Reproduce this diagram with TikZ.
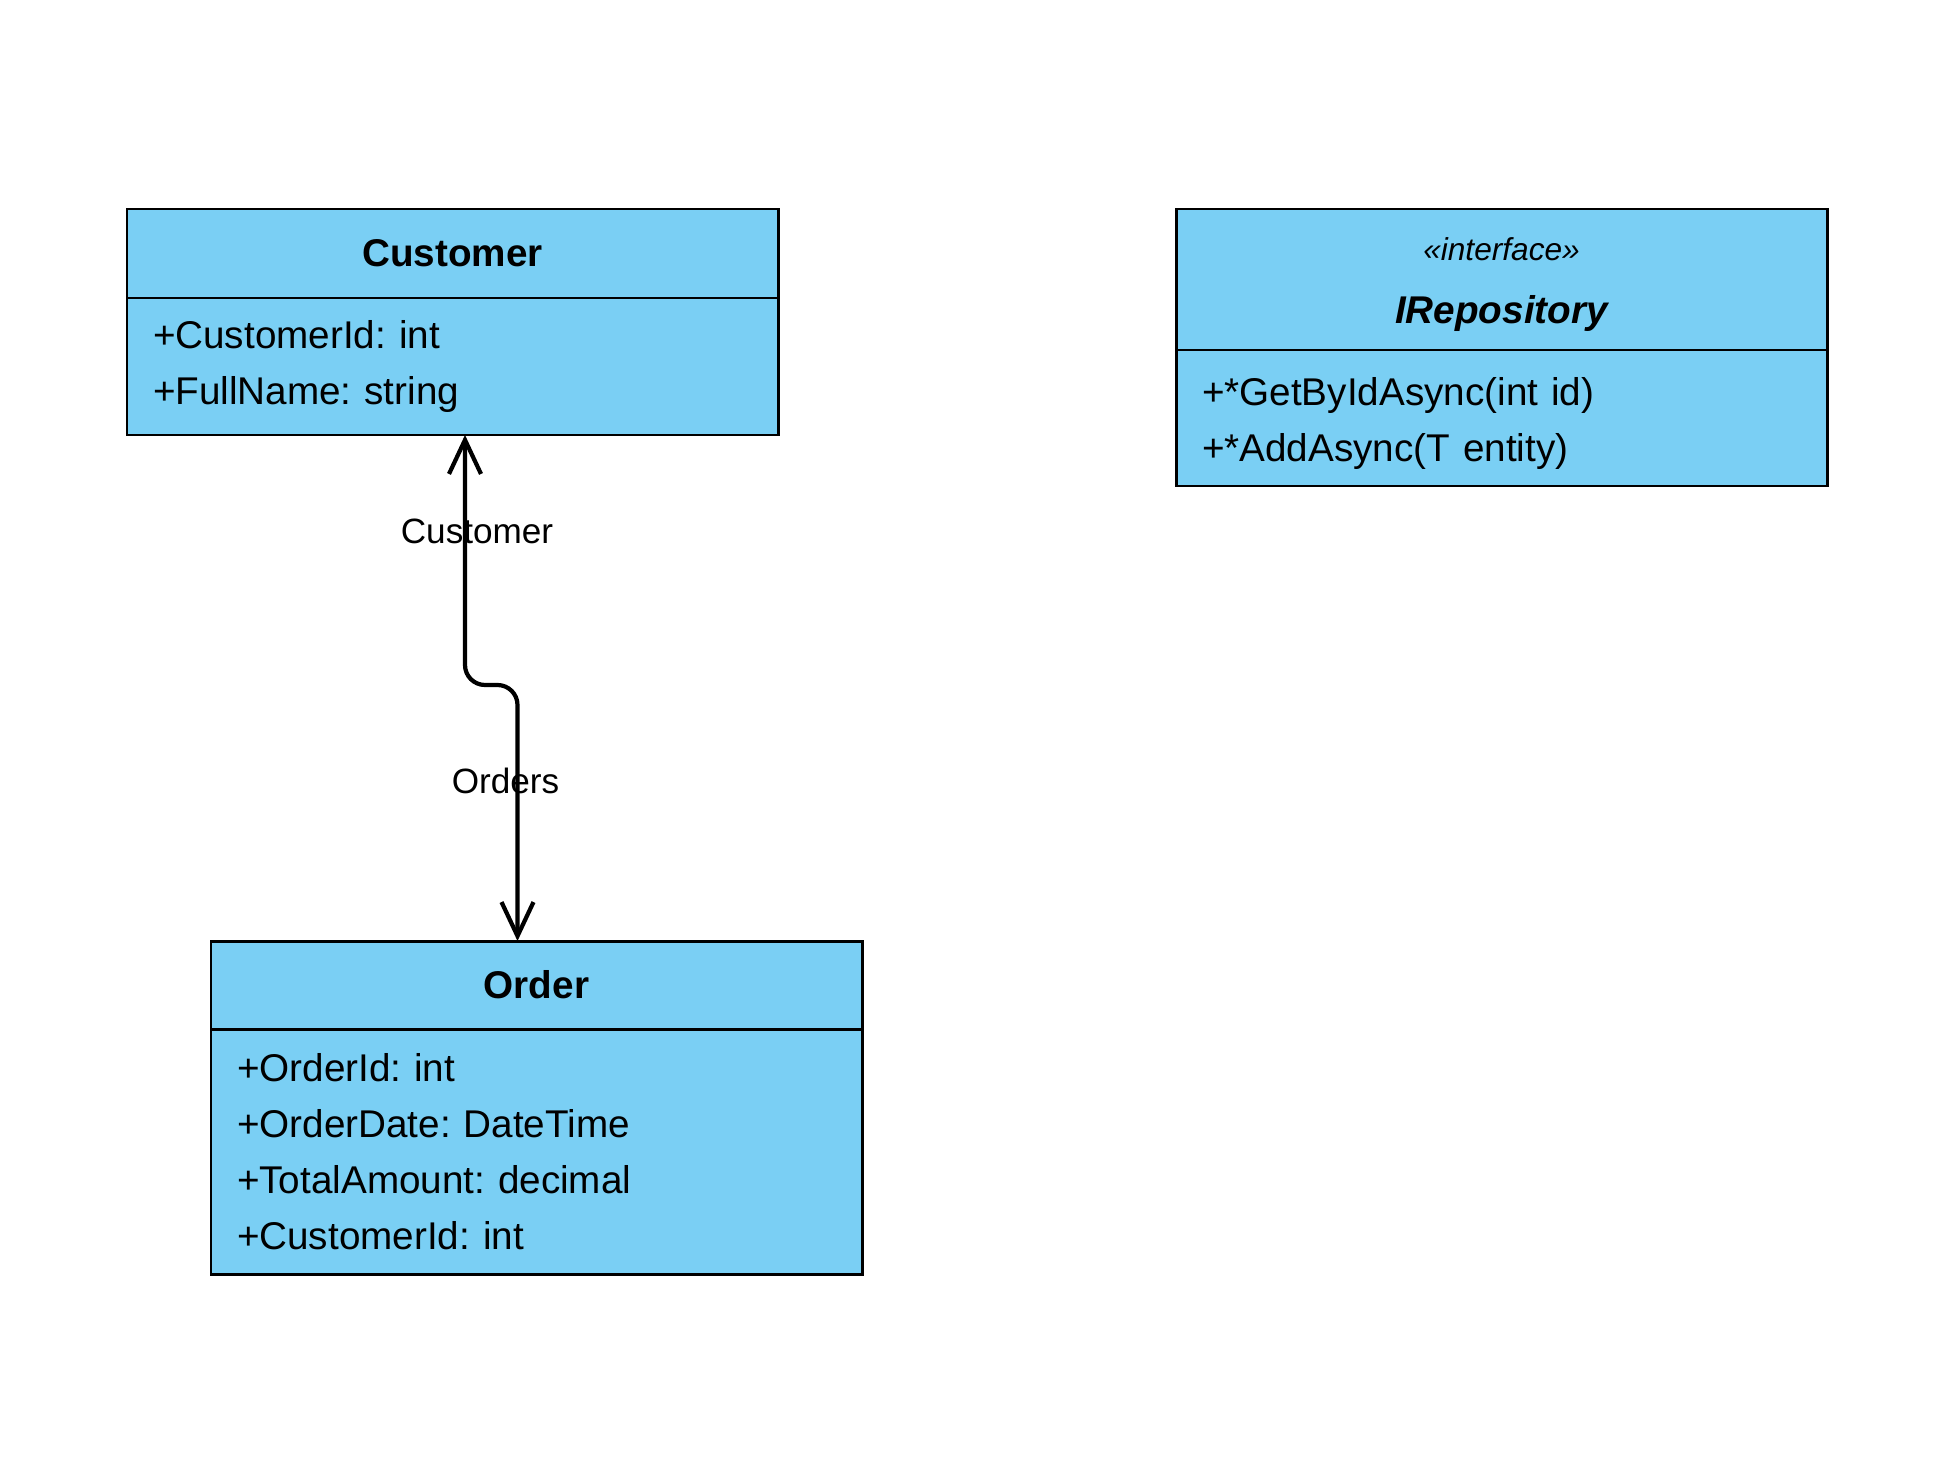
\documentclass[tikz,border=0pt]{standalone}
\usepackage{fontspec}
\setmainfont{Liberation Sans}
\usetikzlibrary{positioning, arrows.meta}
\definecolor{classblue}{RGB}{122,207,244}
\frenchspacing

\begin{document}
\begin{tikzpicture}[
  >={Straight Barb[length=3.4mm, width=3.2mm]},
  every node/.style={font=\fontsize{11}{15.9}\selectfont},
  classhead/.style={
    draw, fill=classblue, line width=0.85pt, rectangle, outer sep=0pt,
    text width=5.99cm, inner xsep=0.26cm, inner ysep=0pt, align=center,
    font=\fontsize{11}{15.9}\selectfont\bfseries
  },
  classbody/.style={
    draw, fill=classblue, line width=0.85pt, rectangle, outer sep=0pt,
    text width=5.99cm, inner xsep=0.26cm, inner ysep=0pt, align=left
  },
  assoc/.style={<->, line width=1.2pt, rounded corners=2mm},
  role/.style={font=\fontsize{10}{12}\selectfont}
]
\useasboundingbox (0,0) rectangle (19.54,-14.84);

%--- Classes, placed at their top left corners ---
\node[classhead, minimum height=0.89cm, anchor=north west] (custhead) at (1.27,-2.09) {Customer};
\node[classbody, minimum height=1.37cm, below=0pt of custhead]   (custbody)
  {+CustomerId: int\\+FullName: string};

\node[classhead, minimum height=1.41cm, anchor=north west] (repohead) at (11.76,-2.09)
  {{\fontsize{9}{11}\selectfont\mdseries\itshape\rule{0pt}{9.4pt}«interface»}\\[2pt]{\itshape IRepository}};
\node[classbody, minimum height=1.36cm, below=0pt of repohead]   (repobody)
  {\rule{0pt}{11pt}+*GetByIdAsync(int id)\\+*AddAsync(T entity)};

\node[classhead, minimum height=0.88cm, anchor=north west] (ordhead) at (2.11,-9.41) {Order};
\node[classbody, minimum height=2.45cm, below=0pt of ordhead]    (ordbody)
  {+OrderId: int\\+OrderDate: DateTime\\+TotalAmount: decimal\\+CustomerId: int};

%--- Association Customer <-> Order ---
\draw[assoc] ([xshift=1.25mm]custbody.south)
  -- node[role, pos=0.384, xshift=1.2mm] {Customer} ++(0,-2.5)
  -| node[role, pos=0.6875, xshift=-1.2mm] {Orders} ([xshift=-1.9mm]ordhead.north);

\end{tikzpicture}
\end{document}
